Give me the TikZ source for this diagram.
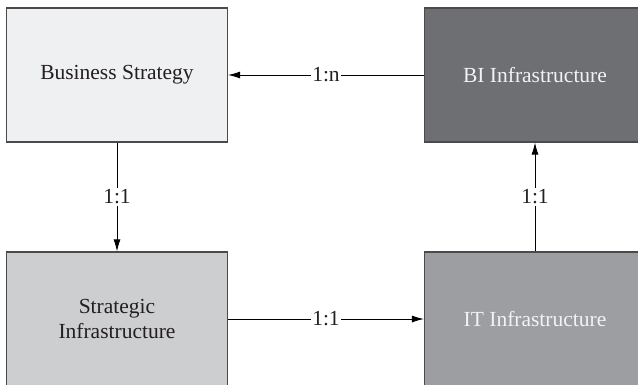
\documentclass[tikz,border=0pt]{standalone}
\usepackage{fontspec}
\setmainfont{Liberation Serif}
\usetikzlibrary{arrows.meta}
\definecolor{boxline}{HTML}{4A4A4C}
\definecolor{bsfill}{HTML}{EFF0F2}
\definecolor{bifill}{HTML}{6E6F73}
\definecolor{sifill}{HTML}{CDCED0}
\definecolor{itfill}{HTML}{9D9EA2}
\definecolor{darktext}{HTML}{231F20}
\definecolor{lighttext}{HTML}{F2F2F2}
\tikzset{
  x=1pt, y=-1pt,
  block/.style={draw=boxline, line width=1.1pt, minimum width=221pt, minimum height=134pt,
    inner sep=0pt, align=center, font=\fontsize{21.5}{25.5}\selectfont, text=darktext},
  darkblock/.style={block, text=lighttext},
  link/.style={line width=0.9pt, draw=black, -{Latex[length=12pt,width=7pt]}},
  ratio/.style={fill=white, inner sep=1.5pt, font=\fontsize{21.5}{25.5}\selectfont, text=darktext}
}
\begin{document}
\begin{tikzpicture}
  \useasboundingbox (0,0) rectangle (638,384);
  \clip (0,0) rectangle (638,384);
  % the four blocks; the right column and bottom row run past the frame
  \node[block, fill=bsfill] (bs) at (117,75) {Business Strategy};
  \node[darkblock, fill=bifill] (bi) at (535,75) {BI Infrastructure};
  \node[block, fill=sifill] (si) at (117,319) {Strategic\\Infrastructure};
  \node[darkblock, fill=itfill] (it) at (535,319) {IT Infrastructure};
  % cardinality links
  \draw[link] (bi) -- node[ratio] {1:n} (bs);
  \draw[link] (bs) -- node[ratio] {1:1} (si);
  \draw[link] (si) -- node[ratio] {1:1} (it);
  \draw[link] (it) -- node[ratio] {1:1} (bi);
\end{tikzpicture}
\end{document}
